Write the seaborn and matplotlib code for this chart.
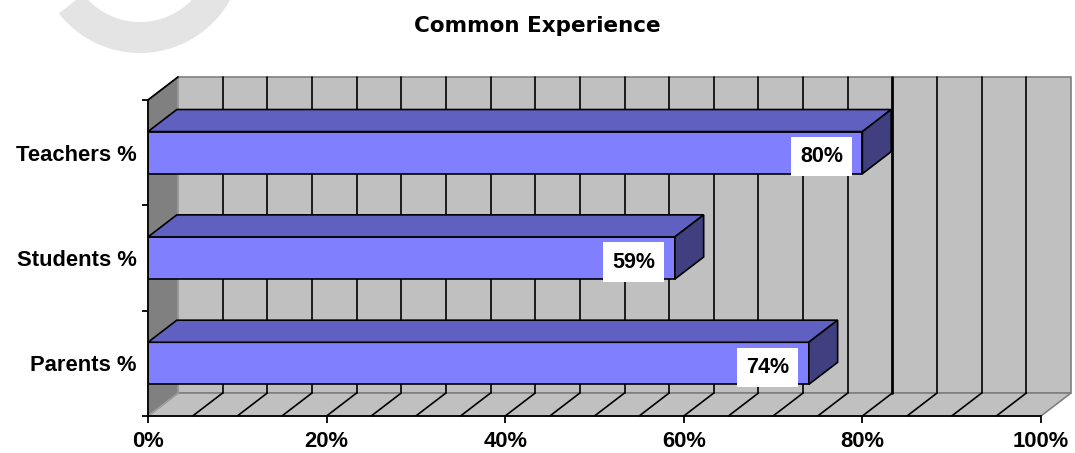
import matplotlib
matplotlib.use("Agg")
import matplotlib.pyplot as plt
from matplotlib.patches import Polygon, Rectangle, Wedge
import seaborn as sns
import pandas as pd

# Survey results
groups = ["Teachers %", "Students %", "Parents %"]
shares = [80, 59, 74]
x_ticks = [0, 20, 40, 60, 80, 100]
x_tick_labels = ["0%", "20%", "40%", "60%", "80%", "100%"]
title = "Common Experience"

sns.set_style("white")
plt.rcParams["font.family"] = ["Liberation Sans", "DejaVu Sans"]
plt.rcParams["font.weight"] = "bold"
for key in ("text.color", "axes.labelcolor", "xtick.color", "ytick.color"):
    plt.rcParams[key] = "black"

W, H, DPI = 1075, 453, 100
fig = plt.figure(figsize=(W / DPI, H / DPI), dpi=DPI)

# faint logo arc in the top-left corner
bg = fig.add_axes([0, 0, 1, 1], zorder=-5)
bg.set_xlim(0, W)
bg.set_ylim(H, 0)
bg.axis("off")
bg.add_patch(Wedge((140, -50), 103, 0, 142, width=31, color="#e4e4e5", lw=0))

# front plane of the 3-D box
left, right, top, bottom = 148, 1041, 100, 416
ax = fig.add_axes([left / W, (H - bottom) / H, (right - left) / W, (bottom - top) / H])
ax.set_facecolor("none")

# depth vector of the box (data units): 30 px right, 23 px up
DX = 30 / (right - left) * 100
DY = 23 / (bottom - top) * 3

wall = "#c0c0c0"
edge = "#808080"

# back wall
ax.add_patch(Rectangle((DX, -0.5 - DY), 100, 3, facecolor=wall, edgecolor=edge,
                       lw=1.2, zorder=0.5, clip_on=False))
# floor
ax.add_patch(Polygon([(0, 2.5), (100, 2.5), (100 + DX, 2.5 - DY), (DX, 2.5 - DY)],
                     closed=True, facecolor=wall, edgecolor=edge, lw=1.2,
                     zorder=0.6, clip_on=False))
# left wall
ax.add_patch(Polygon([(0, -0.5), (DX, -0.5 - DY), (DX, 2.5 - DY), (0, 2.5)],
                     closed=True, facecolor="#808080", edgecolor="#a0a0a0", lw=1.0,
                     zorder=0.7, clip_on=False))
ax.plot([0, DX], [-0.5, -0.5 - DY], color="black", lw=1.3, zorder=0.8, clip_on=False)

# gridlines on back wall and floor
for v in range(5, 100, 5):
    ax.plot([v + DX, v + DX], [-0.5 - DY, 2.5 - DY], color="black",
            lw=2.0 if v == 80 else 1.2, zorder=0.9, clip_on=False)
    ax.plot([v, v + DX], [2.5, 2.5 - DY], color="black", lw=1.2, zorder=0.9, clip_on=False)

df = pd.DataFrame({"group": groups, "share": shares})
sns.barplot(data=df, x="share", y="group", order=groups, orient="h",
            color="#8080ff", saturation=1, width=0.4, edgecolor="black",
            linewidth=1.2, ax=ax, zorder=3)

depth = 0.96
for bar, val in zip(ax.containers[0], shares):
    x0 = bar.get_x()
    x1 = x0 + bar.get_width()
    yt = bar.get_y()
    yb = yt + bar.get_height()
    ddx, ddy = DX * depth, DY * depth
    ax.add_patch(Polygon([(x0, yt), (x1, yt), (x1 + ddx, yt - ddy), (x0 + ddx, yt - ddy)],
                         closed=True, facecolor="#6060c0", edgecolor="black", lw=1.2,
                         zorder=3, clip_on=False))
    ax.add_patch(Polygon([(x1, yt), (x1 + ddx, yt - ddy), (x1 + ddx, yb - ddy), (x1, yb)],
                         closed=True, facecolor="#404080", edgecolor="black", lw=1.2,
                         zorder=3, clip_on=False))
    ax.annotate(f"{val}%", xy=(val, (yt + yb) / 2), xytext=(-41, -4),
                textcoords="offset pixels", ha="center", va="center",
                fontsize=15.5, fontweight="bold", zorder=6,
                bbox=dict(boxstyle="square,pad=0.42", facecolor="white", edgecolor="none"))

ax.set_xlim(0, 100)
ax.set_ylim(2.5, -0.5)
ax.set_xticks(x_ticks)
ax.set_xticklabels(x_tick_labels, fontsize=15.8, fontweight="bold")
ax.set_yticks(range(len(groups)))
ax.set_yticklabels(groups, fontsize=15.8, fontweight="bold")
ax.set_yticks([-0.5, 0.5, 1.5, 2.5], minor=True)
ax.tick_params(axis="y", which="major", length=0, pad=8)
ax.tick_params(axis="y", which="minor", length=4, width=1.3, color="black", left=True)
ax.tick_params(axis="x", which="major", length=5, width=1.3, color="black",
               bottom=True, pad=6)
ax.set_xlabel("")
ax.set_ylabel("")
for s in ("top", "right"):
    ax.spines[s].set_visible(False)
for s in ("left", "bottom"):
    ax.spines[s].set_color("black")
    ax.spines[s].set_linewidth(1.3)
    ax.spines[s].set_zorder(4)

fig.text(0.5, (H - 32.3) / H, title, ha="center", va="baseline",
         fontsize=15.5, fontweight="bold", family="DejaVu Sans")

fig.savefig("out.png", dpi=DPI)
